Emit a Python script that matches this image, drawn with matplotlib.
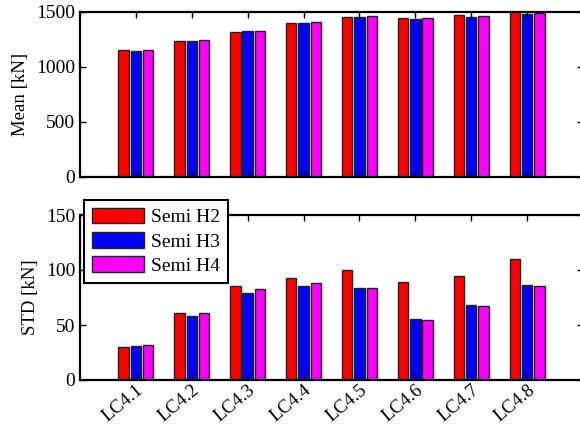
import matplotlib
matplotlib.use("Agg")
import matplotlib.pyplot as plt
import numpy as np

categories = ["LC4.1", "LC4.2", "LC4.3", "LC4.4", "LC4.5", "LC4.6", "LC4.7", "LC4.8"]
series_names = ["Semi H2", "Semi H3", "Semi H4"]
mean_h2 = [1150, 1240, 1320, 1400, 1457, 1445, 1470, 1505]
mean_h3 = [1148, 1240, 1323, 1402, 1450, 1436, 1457, 1482]
mean_h4 = [1150, 1246, 1331, 1413, 1462, 1442, 1463, 1488]
std_h2 = [30.3, 60.9, 85.5, 93.0, 100.3, 89.4, 94.5, 109.7]
std_h3 = [31.2, 58.2, 79.1, 85.5, 83.6, 55.5, 67.9, 86.1]
std_h4 = [31.8, 60.9, 82.4, 88.2, 83.6, 54.5, 67.6, 85.5]
colors = ["#ff0000", "#0000ff", "#ff00ff"]

plt.rcParams['font.family'] = ['Liberation Serif', 'DejaVu Serif']
plt.rcParams['font.size'] = 14

fig = plt.figure(figsize=(5.8, 4.3), dpi=100)
ax1 = fig.add_axes([80/580, 1-177/430, 503/580, 165/430])
ax2 = fig.add_axes([80/580, 1-380/430, 503/580, 165/430])

x = np.arange(1, len(categories) + 1)
offsets = [-0.22, 0.0, 0.22]
width = 0.185

def draw(ax, data, ylim, yticks, ylabel):
    handles = []
    for d, off, c, name in zip(data, offsets, colors, series_names):
        h = ax.bar(x + off, d, width, color=c, edgecolor='#222222', linewidth=1.0, label=name)
        handles.append(h)
    ax.set_xlim(0, 9)
    ax.set_ylim(*ylim)
    ax.set_yticks(yticks)
    ax.set_xticks(x)
    ax.set_ylabel(ylabel, labelpad=5, fontsize=13.5)
    ax.tick_params(direction='in', top=True, right=True, length=4.5, width=1.0, labelsize=14)
    for s in ax.spines.values():
        s.set_linewidth(1.6)
    return handles

draw(ax1, [mean_h2, mean_h3, mean_h4], (0, 1500), [0, 500, 1000, 1500], "Mean [kN]")
ax1.set_xticklabels([])
handles = draw(ax2, [std_h2, std_h3, std_h4], (0, 150), [0, 50, 100, 150], "STD [kN]")
ax2.tick_params(axis='x', pad=1)
ax2.set_xticklabels(categories, rotation=40, ha='right', va='top', rotation_mode='anchor',
                    fontsize=13.5)
for lbl in ax2.get_xticklabels():
    lbl.set_x(lbl.get_position()[0])

leg = fig.legend(handles, series_names, loc='upper left',
                 bbox_to_anchor=(84/580, 1-200/430), bbox_transform=fig.transFigure,
                 fancybox=False, framealpha=1, edgecolor='black',
                 handlelength=2.7, handleheight=0.85, handletextpad=0.35,
                 labelspacing=0.3, borderpad=0.4, borderaxespad=0, fontsize=14)
leg.get_frame().set_linewidth(1.5)

fig.savefig("out.png", dpi=100)
